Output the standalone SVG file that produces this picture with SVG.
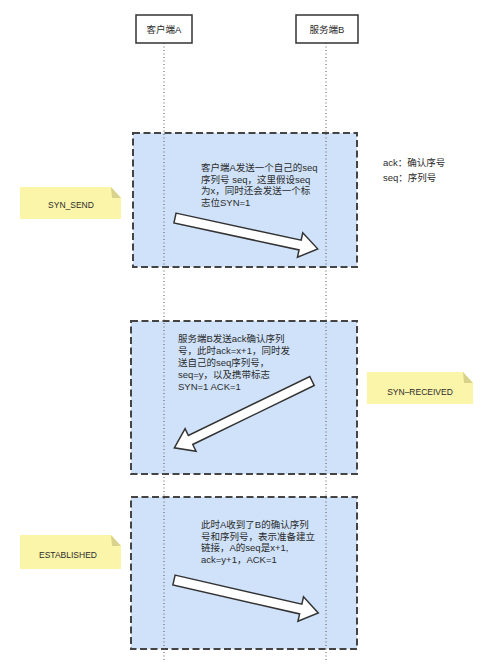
<svg xmlns="http://www.w3.org/2000/svg" width="504" height="666" viewBox="0 0 504 666">
<style>
text{font-family:"Liberation Sans","Noto Sans CJK SC",sans-serif;fill:#2b2b2b;}
.hdr{fill:#fff;stroke:#333;stroke-width:1.5;}
.life{stroke:#555;stroke-width:1;stroke-dasharray:1,2.5;fill:none;}
.frame{fill:#cfe2f9;stroke:#444;stroke-width:2;stroke-dasharray:7,3.5;}
.arrow{fill:#fff;stroke:#333;stroke-width:1.5;stroke-linejoin:miter;}
.note{fill:#fbf5a9;}
.fold{fill:#d8d28c;}
.t{font-size:9.5px;}
.n{font-size:8.5px;text-anchor:middle;}
.h{font-size:9.5px;text-anchor:middle;}
</style>
<rect width="504" height="666" fill="#fff"/>

<g id="step1">
<rect class="frame" x="133" y="133" width="224" height="134"/>
<text class="t" x="201" y="171">客户端A发送一个自己的seq</text>
<text class="t" x="201" y="182.5">序列号 seq，这里假设seq</text>
<text class="t" x="201" y="194">为x，同时还会发送一个标</text>
<text class="t" x="201" y="205.5">志位SYN=1</text>
</g>

<g id="step2">
<rect class="frame" x="131" y="321" width="226" height="153"/>
<text class="t" x="178" y="342">服务端B发送ack确认序列</text>
<text class="t" x="178" y="354">号，此时ack=x+1，同时发</text>
<text class="t" x="178" y="366">送自己的seq序列号，</text>
<text class="t" x="178" y="378">seq=y，以及携带标志</text>
<text class="t" x="178" y="390">SYN=1 ACK=1</text>
</g>

<g id="step3">
<rect class="frame" x="131" y="497" width="226" height="152"/>
<text class="t" x="201" y="528">此时A收到了B的确认序列</text>
<text class="t" x="201" y="539.5">号和序列号，表示准备建立</text>
<text class="t" x="201" y="551">链接，A的seq是x+1,</text>
<text class="t" x="201" y="562.5">ack=y+1，ACK=1</text>
</g>

<g id="lifelines">
<line class="life" x1="164" y1="43" x2="164" y2="662"/>
<line class="life" x1="326" y1="43" x2="326" y2="662"/>
</g>

<g id="clientA">
<rect class="hdr" x="136" y="15" width="56" height="28"/>
<text class="h" x="164" y="32.5">客户端A</text>
</g>
<g id="serverB">
<rect class="hdr" x="296" y="15" width="62" height="28"/>
<text class="h" x="327" y="32.5">服务端B</text>
</g>

<g id="connectors">
<g transform="translate(175,218) rotate(12.2)">
<polygon class="arrow" points="0,-5 128,-5 128,-12.5 146,0 128,12.5 128,5 0,5"/>
</g>
<g transform="translate(312,381) rotate(154.1)">
<polygon class="arrow" points="0,-5 135,-5 135,-12.5 153,0 135,12.5 135,5 0,5"/>
</g>
<g transform="translate(174,580) rotate(12.9)">
<polygon class="arrow" points="0,-5 130,-5 130,-12.5 148,0 130,12.5 130,5 0,5"/>
</g>
</g>

<g id="legend">
<text class="t" x="383" y="165.5">ack：确认序号</text>
<text class="t" x="383" y="181">seq：序列号</text>
</g>

<g id="syn_send">
<polygon class="note" points="20,187 111,187 121,198 121,219 20,219"/>
<polygon class="fold" points="111,187 121,198 112,198"/>
<text class="n" x="71" y="208">SYN_SEND</text>
</g>

<g id="syn_received">
<polygon class="note" points="367,372 463,372 473,383 473,404 367,404"/>
<polygon class="fold" points="463,372 473,383 464,383"/>
<text class="n" x="420" y="395">SYN–RECEIVED</text>
</g>

<g id="established">
<polygon class="note" points="20,535 111,535 121,546 121,569 20,569"/>
<polygon class="fold" points="111,535 121,546 112,546"/>
<text class="n" x="68" y="558">ESTABLISHED</text>
</g>
</svg>
